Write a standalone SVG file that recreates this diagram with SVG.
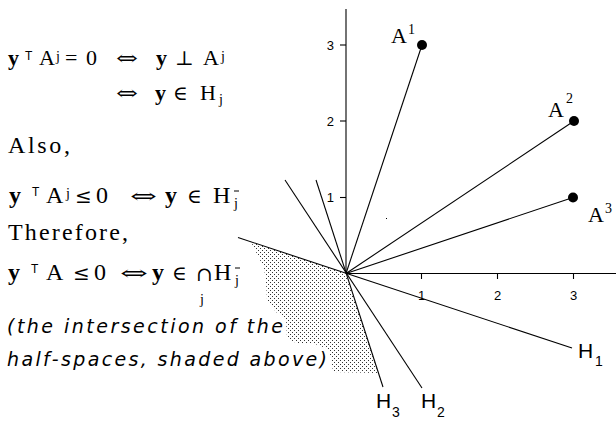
<svg xmlns="http://www.w3.org/2000/svg" width="616" height="421" viewBox="0 0 616 421">
<defs>
<style>
.m{font-family:"Liberation Serif","DejaVu Serif",serif;font-size:22px;fill:#000}
.m2{font-family:"Liberation Serif","DejaVu Serif",serif;font-size:24px;fill:#000}
.b{font-weight:bold}
.sup{font-family:"Liberation Serif","DejaVu Serif",serif;font-size:14px;fill:#000}
.st{font-family:"Liberation Sans",sans-serif;font-size:12px;fill:#000}
.sym{font-family:"DejaVu Serif","Liberation Serif",serif;font-size:20px;fill:#000}
.tick{font-family:"Liberation Sans",sans-serif;font-size:13px;fill:#000}
.h{font-family:"Liberation Sans",sans-serif;font-size:21px;fill:#000}
.hs{font-family:"Liberation Sans",sans-serif;font-size:14px;fill:#000}
.it{font-family:"DejaVu Sans","Liberation Sans",sans-serif;font-style:italic;font-size:19px;fill:#000}
.ln{stroke:#000;stroke-width:1.1;fill:none}
</style>
<pattern id="dots" width="4" height="4" patternUnits="userSpaceOnUse">
<rect x="0" y="0" width="1" height="1" fill="#333"/>
<rect x="2" y="2" width="1" height="1" fill="#333"/>
</pattern>
</defs>
<rect width="616" height="421" fill="#fff"/>

<g id="shading">
<polygon points="251,242 257,254 264,268 266,282 267,300 276,312 286,319 287,338 296,343 315,344 328,349 331,358 333,372 378,373 346,273.5" fill="url(#dots)"/>
</g>

<g id="axes">
<line class="ln" x1="346" y1="9" x2="346" y2="273.5"/>
<line class="ln" x1="346" y1="273.5" x2="616" y2="273.5"/>
<line class="ln" x1="340" y1="45" x2="346" y2="45"/>
<line class="ln" x1="340" y1="121" x2="346" y2="121"/>
<line class="ln" x1="340" y1="197.5" x2="346" y2="197.5"/>
<line class="ln" x1="421.5" y1="273.5" x2="421.5" y2="279"/>
<line class="ln" x1="497.5" y1="273.5" x2="497.5" y2="279"/>
<line class="ln" x1="573.5" y1="273.5" x2="573.5" y2="279"/>
<text class="tick" x="334" y="50" text-anchor="end">3</text>
<text class="tick" x="334" y="126" text-anchor="end">2</text>
<text class="tick" x="334" y="202" text-anchor="end">1</text>
<text class="tick" x="421.5" y="300" text-anchor="middle">1</text>
<text class="tick" x="497.5" y="300" text-anchor="middle">2</text>
<text class="tick" x="573.5" y="300" text-anchor="middle">3</text>
</g>

<g id="connectors">
<line class="ln" x1="346" y1="273.5" x2="422" y2="45"/>
<line class="ln" x1="346" y1="273.5" x2="574" y2="121"/>
<line class="ln" x1="346" y1="273.5" x2="573" y2="197.5"/>
<line id="H1-line" class="ln" x1="238" y1="237.5" x2="572" y2="348"/>
<line id="H2-line" class="ln" x1="285" y1="180" x2="422" y2="388"/>
<line id="H3-line" class="ln" x1="316" y1="180" x2="383" y2="387"/>
</g>

<g id="A1">
<circle cx="422" cy="45" r="5" fill="#000"/>
<text class="m" x="391" y="43">A</text>
<text class="sup" x="408" y="34">1</text>
</g>
<g id="A2">
<circle cx="574" cy="121" r="5" fill="#000"/>
<text class="m" x="548" y="117">A</text>
<text class="sup" x="566" y="103">2</text>
</g>
<g id="A3">
<circle cx="573" cy="197.5" r="5" fill="#000"/>
<text class="m" x="588" y="222">A</text>
<text class="sup" x="605" y="213">3</text>
</g>

<g id="H1">
<text class="h" x="578" y="358">H</text>
<text class="hs" x="595" y="366">1</text>
</g>
<g id="H2">
<text class="h" x="421" y="408">H</text>
<text class="hs" x="437" y="417">2</text>
</g>
<g id="H3">
<text class="h" x="376" y="408">H</text>
<text class="hs" x="392" y="417">3</text>
</g>

<rect x="386" y="218" width="1" height="1" fill="#000"/>

<g id="equations">
<text class="m b" x="8" y="65">y</text>
<text class="st" x="25" y="60">T</text>
<text class="m" x="39" y="65">A</text>
<text class="sup" x="56" y="61">j</text>
<text class="m" x="65" y="65">=</text>
<text class="m" x="86" y="65">0</text>
<text class="sym" x="116" y="65" textLength="22" lengthAdjust="spacingAndGlyphs">⇔</text>
<text class="m b" x="156" y="65">y</text>
<text class="sym" x="175" y="65">⊥</text>
<text class="m" x="203" y="65">A</text>
<text class="sup" x="221" y="61">j</text>

<text class="sym" x="116" y="100" textLength="22" lengthAdjust="spacingAndGlyphs">⇔</text>
<text class="m b" x="155" y="100">y</text>
<text class="sym" x="173" y="100">∈</text>
<text class="m" x="200" y="100">H</text>
<text class="sup" x="219" y="104">j</text>

<text class="m2" x="8" y="153" textLength="62" lengthAdjust="spacing">Also,</text>

<text class="m2 b" x="9" y="203">y</text>
<text class="st" x="32" y="196">T</text>
<text class="m2" x="46" y="203">A</text>
<text class="sup" x="66" y="198">j</text>
<text class="sym" x="75" y="203">≤</text>
<text class="m2" x="96" y="203">0</text>
<text class="sym" x="130" y="203" textLength="27" lengthAdjust="spacingAndGlyphs">⇔</text>
<text class="m2 b" x="165" y="203">y</text>
<text class="sym" x="187" y="203">∈</text>
<text class="m2" x="213" y="203">H</text>
<text class="sup" x="234" y="208">j</text>
<line x1="234" y1="191" x2="239" y2="191" stroke="#000" stroke-width="1"/>

<text class="m2" x="8" y="240" textLength="120" lengthAdjust="spacing">Therefore,</text>

<text class="m2 b" x="8" y="280">y</text>
<text class="st" x="31" y="273">T</text>
<text class="m2" x="46" y="280">A</text>
<text class="sym" x="73" y="280">≤</text>
<text class="m2" x="94" y="280">0</text>
<text class="sym" x="120" y="280" textLength="28" lengthAdjust="spacingAndGlyphs">⇔</text>
<text class="m2 b" x="152" y="280">y</text>
<text class="sym" x="172" y="280">∈</text>
<text class="sym" x="196" y="281" font-size="14">∩</text>
<text class="m2" x="214" y="280">H</text>
<text class="sup" x="235" y="285">j</text>
<line x1="235" y1="268" x2="240" y2="268" stroke="#000" stroke-width="1"/>
<text class="sup" x="200" y="304">j</text>
</g>

<g id="caption">
<text class="it" x="7" y="333" textLength="276" lengthAdjust="spacing">(the intersection of the</text>
<text class="it" x="7" y="366" textLength="320" lengthAdjust="spacing">half-spaces, shaded above)</text>
</g>
</svg>
